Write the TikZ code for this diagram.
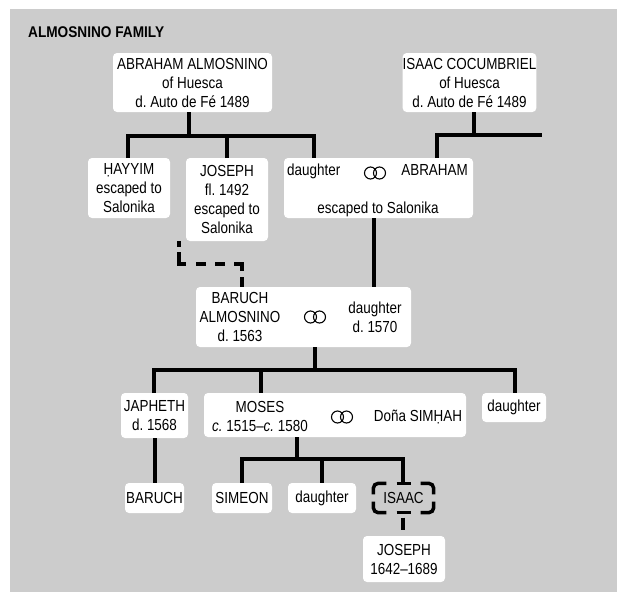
\documentclass[tikz,border=0pt]{standalone}
\usepackage{fontspec}
\setmainfont{Liberation Sans}[FakeStretch=0.84]
\newfontfamily\titlefont{Liberation Sans}[FakeStretch=0.88]
\usetikzlibrary{calc}
\definecolor{bg}{RGB}{204,204,204}
\frenchspacing
\begin{document}
\begin{tikzpicture}[x=1pt,y=-1pt,
  box/.style={fill=white,rounded corners=4pt,inner sep=0pt,outer sep=0pt,align=center,font=\fontsize{16}{19}\selectfont},
  txt/.style={inner sep=0pt,align=center,font=\fontsize{16}{19}\selectfont},
  conn/.style={line width=3.5pt},
  rings/.pic={\draw[line width=1.1pt] (-4.5,0) circle[radius=6pt] (4.5,0) circle[radius=6pt];}]

\useasboundingbox (0,0) rectangle (617,592);
\fill[bg] (10,9) rectangle (617,592);
\node[anchor=base west,inner sep=0pt,font=\titlefont\bfseries\fontsize{15.5}{18}\selectfont] (title) at (28,37) {ALMOSNINO FAMILY};

% generation 1
\node[box,minimum width=159pt,minimum height=59pt] (abr) at (192.5,82.5) {ABRAHAM ALMOSNINO\\of Huesca\\d. Auto de Fé 1489};
\node[box,minimum width=127pt,minimum height=59pt] (isc) at (469.5,82.5) {ISAAC COCUMBRIEL\\of Huesca\\d. Auto de Fé 1489};

% generation 2
\node[box,minimum width=82pt,minimum height=60pt] (hay) at (129,188) {ḤAYYIM\\escaped to\\Salonika};
\node[box,minimum width=82pt,minimum height=83pt] (jos) at (227,199.5) {JOSEPH\\fl. 1492\\escaped to\\Salonika};
\node[box,minimum width=189pt,minimum height=60pt] (dab) at (378.5,188) {};
\node[txt,anchor=base west] (dabd) at (287,175) {daughter};
\node[txt,anchor=base east] (daba) at (468,175) {ABRAHAM};
\node[txt] (dabe) at (378,209) {escaped to Salonika};
\pic (r1) at (375,173) {rings};

% generation 3
\node[box,minimum width=215pt,minimum height=60pt] (bar) at (303.5,317) {};
\node[txt] (barb) at (240,317) {BARUCH\\ALMOSNINO\\d. 1563};
\node[txt] (bard) at (375,317) {daughter\\d. 1570};
\pic (r2) at (315,317) {rings};

% generation 4
\node[box,minimum width=67pt,minimum height=45pt] (jap) at (154.5,415.5) {JAPHETH\\d. 1568};
\node[box,minimum width=262pt,minimum height=44pt] (mos) at (335,415) {};
\node[txt] (mosm) at (260,416) {MOSES\\\textit{c.}~1515–\textit{c.}~1580};
\node[txt] (moss) at (418,417) {Doña SIMḤAH};
\pic (r3) at (342,417) {rings};
\node[box,minimum width=64pt,minimum height=29pt] (dr) at (514,407.5) {daughter};

% generation 5
\node[box,minimum width=59pt,minimum height=30pt] (bar2) at (154.5,498) {BARUCH};
\node[box,minimum width=60pt,minimum height=30pt] (sim) at (242,498) {SIMEON};
\node[box,minimum width=68pt,minimum height=30pt] (dau2) at (322,498) {daughter};
\node[txt,minimum width=60pt,minimum height=29pt] (isa2) at (403.5,498) {ISAAC};
\node[box,minimum width=82pt,minimum height=46pt] (jos2) at (404,559) {JOSEPH\\1642–1689};

% dashed ISAAC frame
\begin{scope}[conn,rounded corners=5pt]
\draw ($(isa2.north west)+(0,11)$) -- (isa2.north west) -- ($(isa2.north west)+(13,0)$);
\draw ($(isa2.north east)+(-13,0)$) -- (isa2.north east) -- ($(isa2.north east)+(0,11)$);
\draw ($(isa2.south east)+(0,-11)$) -- (isa2.south east) -- ($(isa2.south east)+(-13,0)$);
\draw ($(isa2.south west)+(13,0)$) -- (isa2.south west) -- ($(isa2.south west)+(0,-11)$);
\end{scope}
\draw[conn] ($(isa2.north)+(-7,0)$) -- ($(isa2.north)+(7,0)$);
\draw[conn] ($(isa2.south)+(-7,0)$) -- ($(isa2.south)+(7,0)$);

% connectors
\coordinate (j1) at (189,136);
\coordinate (b1L) at (128,136);
\coordinate (b1R) at (314,136);
\draw[conn] (abr.south -| j1) -- (j1);
\draw[conn] (hay.north -| b1L) -- (b1L) -- (b1R) -- (dab.north -| b1R);
\draw[conn] (jos.north) -- (jos.north |- b1L);

\coordinate (j2) at (474,135);
\coordinate (b2L) at (437,135);
\coordinate (b2R) at (542,135);
\draw[conn] (isc.south -| j2) -- (j2);
\draw[conn] (dab.north -| b2L) -- (b2L) -- (b2R);

\coordinate (v2) at (374,250);
\draw[conn] (dab.south -| v2) -- (bar.north -| v2);

\coordinate (dj) at (179,264);
\coordinate (dk) at (242,264);
\draw[conn,dash pattern=on 6pt off 5pt on 19pt off 10pt on 10pt off 9pt on 10pt off 9pt on 15pt off 6pt on 12pt off 20pt]
  (dj |- jos.south) -- (dj) -- (dk) -- (dk |- bar.north);

\coordinate (j3) at (315,370);
\coordinate (b3L) at (154,370);
\coordinate (b3M) at (261,370);
\coordinate (b3R) at (515,370);
\draw[conn] (bar.south -| j3) -- (j3);
\draw[conn] (jap.north -| b3L) -- (b3L) -- (b3R) -- (dr.north -| b3R);
\draw[conn] (b3M) -- (mos.north -| b3M);

\coordinate (v4) at (155,460);
\draw[conn] (jap.south -| v4) -- (bar2.north -| v4);

\coordinate (j4) at (297,459);
\coordinate (b4L) at (242,459);
\coordinate (b4M) at (322,459);
\coordinate (b4R) at (403,459);
\draw[conn] (mos.south -| j4) -- (j4);
\draw[conn] (sim.north -| b4L) -- (b4L) -- (b4R) -- (isa2.north -| b4R);
\draw[conn] (b4M) -- (dau2.north -| b4M);

\draw[conn,dash pattern=on 12pt off 17pt,dash phase=24pt] (isa2.south -| b4R) -- (jos2.north -| b4R);
\end{tikzpicture}
\end{document}
